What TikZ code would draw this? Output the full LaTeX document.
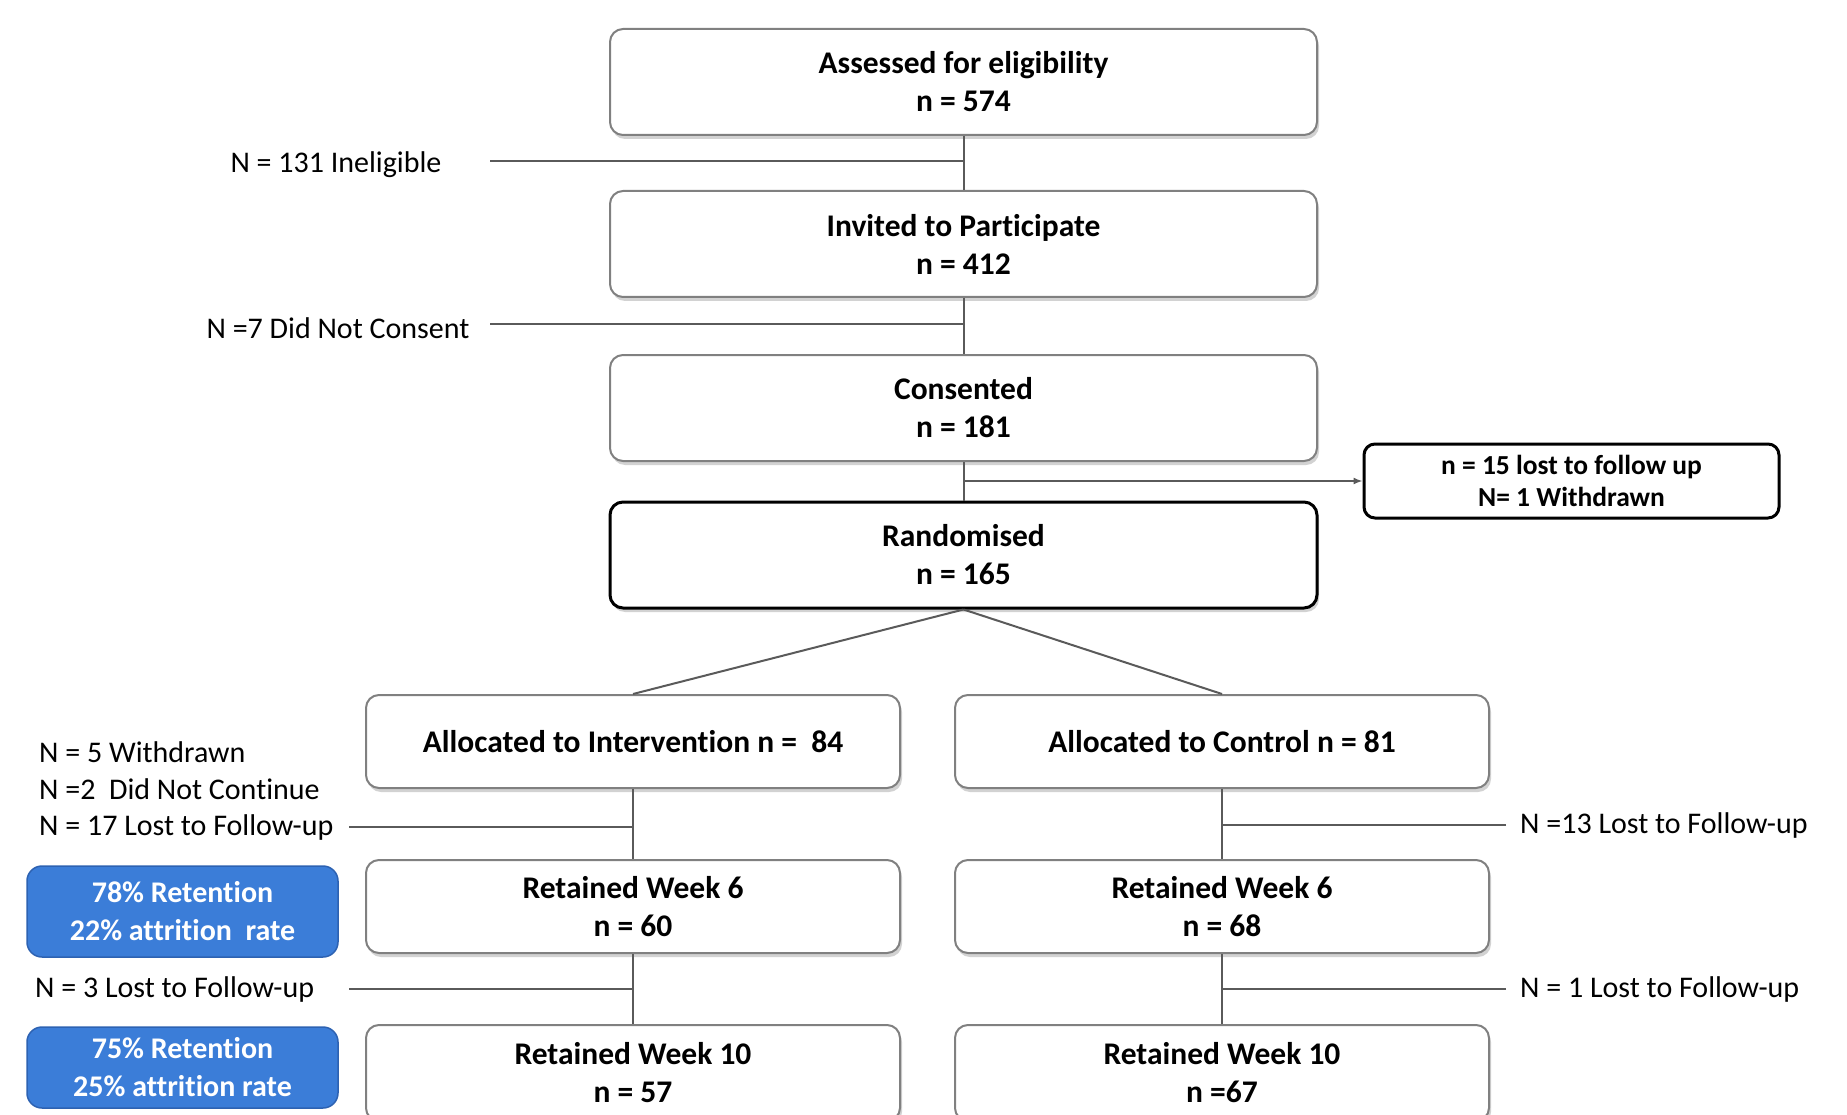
\documentclass[tikz,border=0pt]{standalone}
\usepackage{fontspec}
\setmainfont{Carlito}[Ligatures=NoCommon]
\usetikzlibrary{shadows,arrows.meta}

\definecolor{boxgrey}{RGB}{128,128,128}
\definecolor{linegrey}{RGB}{90,90,90}
\definecolor{rateblue}{RGB}{59,125,216}
\definecolor{rateedge}{RGB}{45,98,178}

\begin{document}
\begin{tikzpicture}[x=1pt, y=-1pt]

% Set the overall canvas
\useasboundingbox (0,0) rectangle (1847,1115);

% Define styles for stages, notes and rates
\tikzstyle{stage} = [draw=boxgrey, line width=2pt, rounded corners=13pt, fill=white,
    drop shadow={shadow xshift=2pt, shadow yshift=-4pt, fill=black!35},
    minimum width=707pt, minimum height=106pt, align=center,
    font=\bfseries\fontsize{31.5}{38}\selectfont]
\tikzstyle{arm} = [stage, minimum width=534pt, minimum height=93pt]
\tikzstyle{keybox} = [stage, draw=black, line width=3pt, drop shadow={opacity=0}]
\tikzstyle{lostbox} = [draw=black, line width=3pt, rounded corners=11pt, fill=white,
    minimum width=415pt, minimum height=74pt, align=center,
    font=\bfseries\fontsize{27.5}{32}\selectfont]
\tikzstyle{rate} = [draw=rateedge, line width=1.5pt, fill=rateblue, rounded corners=15pt,
    text=white, minimum width=311pt, align=center,
    font=\bfseries\fontsize{30}{38}\selectfont]
\tikzstyle{note} = [font=\fontsize{30}{37}\selectfont, inner sep=0pt]
\tikzstyle{link} = [draw=linegrey, line width=2pt]

% Main trunk, top to bottom
\node[stage] (assess) at (963.5,82) {Assessed for eligibility\\n = 574};
\node[stage] (invite) at (963.5,244) {Invited to Participate\\n = 412};
\node[stage] (consent) at (963.5,408) {Consented\\n = 181};
\node[keybox] (random) at (963.5,555) {Randomised\\n = 165};
\node[lostbox] (lost) at (1571.5,481) {n = 15 lost to follow up\\N= 1 Withdrawn};

% Two arms
\node[arm] (interv) at (633,741.5) {Allocated to Intervention n =\ \ 84};
\node[arm] (control) at (1222,741.5) {Allocated to Control n = 81};
\node[arm] (wksixi) at (633,906.5) {Retained Week 6\\n = 60};
\node[arm] (wksixc) at (1222,906.5) {Retained Week 6\\n = 68};
\node[arm, minimum height=96pt] (wktenI) at (633,1073) {Retained Week 10\\n = 57};
\node[arm, minimum height=96pt] (wktenC) at (1222,1073) {Retained Week 10\\n =67};

% Retention rates
\node[rate, minimum height=91pt] (rate6) at (182.5,911.5) {78\% Retention\\22\% attrition\ \ rate};
\node[rate, minimum height=81pt] (rate10) at (182.5,1067.5) {75\% Retention\\25\% attrition rate};

% Exclusion notes
\node[note] (inelig) at (336,165) {N = 131 Ineligible};
\node[note] (noconsent) at (338,328) {N =7 Did Not Consent};
\node[note, anchor=west] (withdrawn) at (39,752) {N = 5 Withdrawn};
\node[note, anchor=west] (notcont) at (39,789) {N =2\ \ Did Not Continue};
\node[note, anchor=west] (lostI6) at (39,827) {N = 17 Lost to Follow-up};
\node[note, anchor=west] (lostI10) at (35,989) {N = 3 Lost to Follow-up};
\node[note, anchor=west] (lostC6) at (1520,825) {N =13 Lost to Follow-up};
\node[note, anchor=west] (lostC10) at (1520,989) {N = 1 Lost to Follow-up};

% Free ends of the side lines
\coordinate (inelig end) at (490,161);
\coordinate (noconsent end) at (490,324);
\coordinate (lostI6 end) at (349,827);
\coordinate (lostI10 end) at (349,989);
\coordinate (lostC6 end) at (1506,825);
\coordinate (lostC10 end) at (1506,989);

% Connectors
\draw[link] (assess) -- (invite);
\draw[link] (invite) -- (consent);
\draw[link] (consent) -- (random);
\draw[link] (inelig end) -- (assess.south |- inelig end);
\draw[link] (noconsent end) -- (invite.south |- noconsent end);
\draw[link, line width=1.5pt, -{Latex[length=9pt, width=7pt]}] (consent.south |- lost.west) -- (lost.west);
\draw[link] (random.south) -- (interv.north);
\draw[link] (random.south) -- (control.north);
\draw[link] (interv) -- (wksixi);
\draw[link] (wksixi) -- (wktenI);
\draw[link] (control) -- (wksixc);
\draw[link] (wksixc) -- (wktenC);
\draw[link] (lostI6 end) -- (interv.south |- lostI6 end);
\draw[link] (lostI10 end) -- (wksixi.south |- lostI10 end);
\draw[link] (lostC6 end) -- (control.south |- lostC6 end);
\draw[link] (lostC10 end) -- (wksixc.south |- lostC10 end);

\end{tikzpicture}
\end{document}
